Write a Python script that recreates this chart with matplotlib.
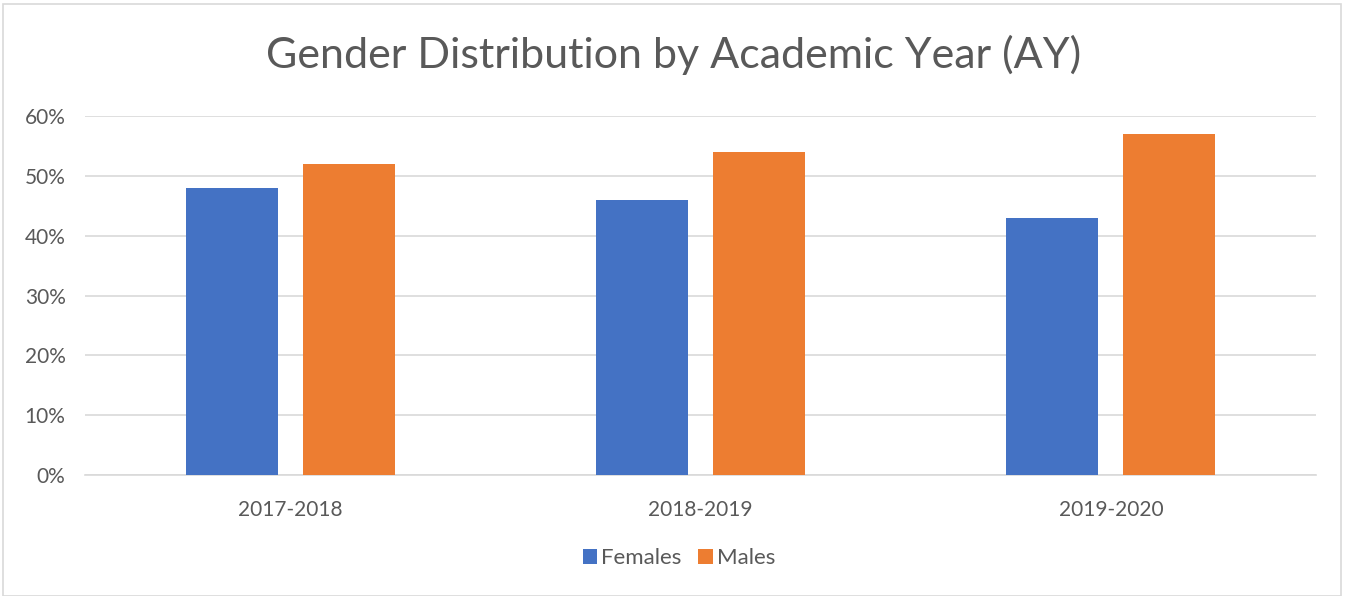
import matplotlib
matplotlib.use("Agg")
import matplotlib.pyplot as plt
from matplotlib.patches import Rectangle
import numpy as np

categories = ["2017-2018", "2018-2019", "2019-2020"]
females = [48, 46, 43]
males = [52, 54, 57]
yticks = [0, 10, 20, 30, 40, 50, 60]

plt.rcParams['font.family'] = ['Lato', 'DejaVu Sans']
W, H = 1346, 596
fig = plt.figure(figsize=(W / 100, H / 100), dpi=100)
fig.patches.append(Rectangle((3 / W, 0), (1341 - 3) / W, 1 - 4 / H, transform=fig.transFigure,
                             fill=False, edgecolor='#d9d9d9', linewidth=1.2))
ax = fig.add_axes([85 / W, 1 - 475 / H, (1316 - 85) / W, (475 - 116) / H])

x = np.arange(len(categories))
bw = 0.224
off = 0.1425
ax.bar(x - off, females, bw, color='#4472c4', label='Females', zorder=3)
ax.bar(x + off, males, bw, color='#ed7d31', label='Males', zorder=3)

ax.set_xlim(-0.5, 2.5)
ax.set_ylim(0, 60)
ax.set_yticks(yticks)
ax.set_yticklabels([f"{v}%" for v in yticks])
ax.set_xticks(x)
ax.set_xticklabels(categories)
ax.grid(axis='y', color='#d9d9d9', linewidth=1.2, zorder=0)
for s in ['top', 'right', 'left']:
    ax.spines[s].set_visible(False)
ax.spines['bottom'].set_color('#d9d9d9')
ax.spines['bottom'].set_linewidth(1.2)
ax.tick_params(axis='both', length=0, labelsize=15, labelcolor='#595959')
ax.tick_params(axis='y', pad=14)
ax.tick_params(axis='x', pad=18)

fig.text(674 / W, 1 - 55 / H, "Gender Distribution by Academic Year (AY)", ha='center', va='center',
         fontsize=31, color='#595959')

leg = fig.legend(loc='center', bbox_to_anchor=(679 / W, 1 - 558 / H), ncol=2, frameon=False,
                 fontsize=16, handlelength=0.65, handleheight=0.65, columnspacing=0.75, handletextpad=0.18)
for t in leg.get_texts():
    t.set_color('#595959')

fig.savefig("out.png", dpi=100)
